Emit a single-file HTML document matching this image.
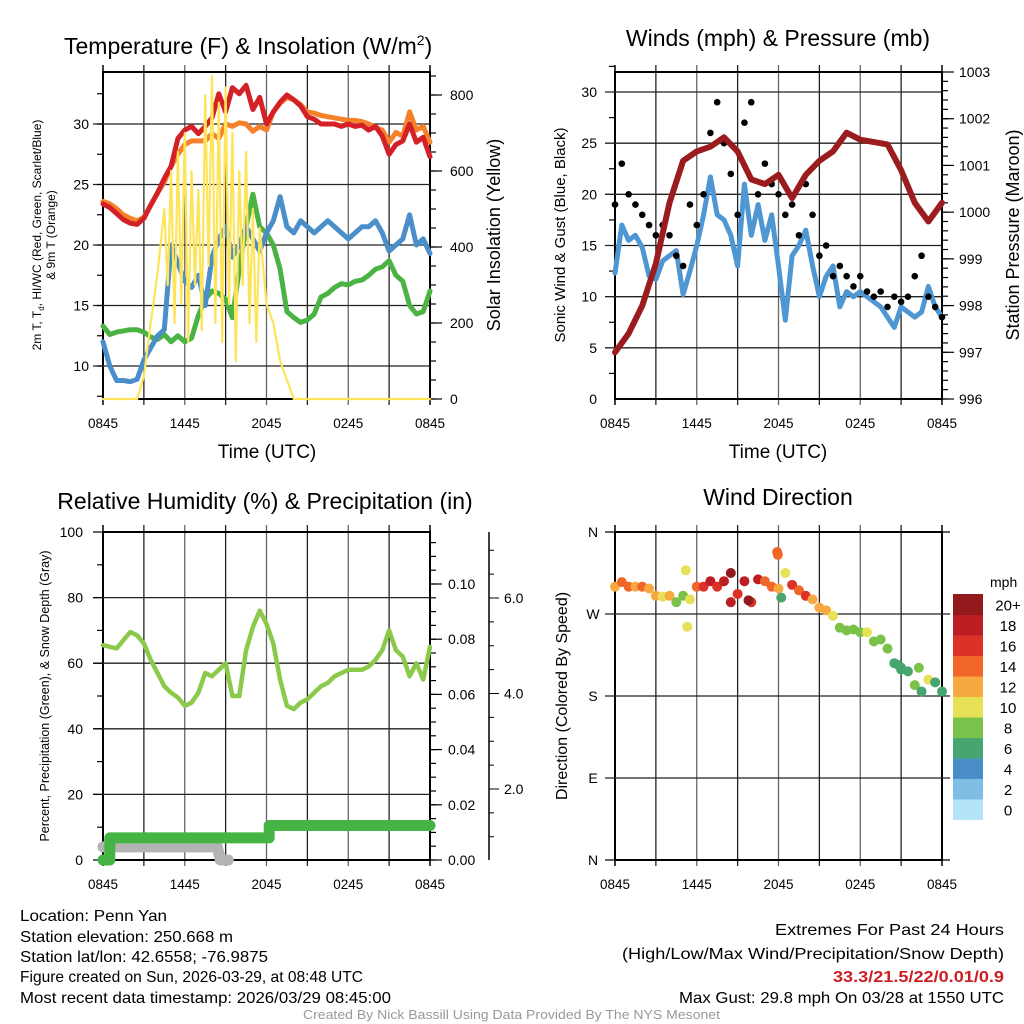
<!DOCTYPE html>
<html><head><meta charset="utf-8"><style>
html,body{margin:0;padding:0;background:#fff;}
svg{display:block;font-family:"Liberation Sans",sans-serif;}
</style></head><body>
<svg id="s" width="1024" height="1024" viewBox="0 0 1024 1024" xmlns="http://www.w3.org/2000/svg">
<rect width="1024" height="1024" fill="#fff"/>
<g id="p1"></g>
<g id="p2"></g>
<g id="p3"></g>
<g id="p4"></g>
<text x="64" y="54" font-size="23">Temperature (F) &amp; Insolation (W/m<tspan dy="-9" font-size="14">2</tspan><tspan dy="9">)</tspan></text>
<text x="778" y="46" font-size="23" text-anchor="middle">Winds (mph) &amp; Pressure (mb)</text>
<text x="265" y="509" font-size="23" text-anchor="middle">Relative Humidity (%) &amp; Precipitation (in)</text>
<text x="778" y="505" font-size="23" text-anchor="middle">Wind Direction</text>
<text x="267" y="458" font-size="19" text-anchor="middle">Time (UTC)</text>
<text x="778" y="458" font-size="19" text-anchor="middle">Time (UTC)</text>
<text transform="translate(41,235) rotate(-90)" font-size="12" text-anchor="middle">2m T, T<tspan font-size="8" dy="3">d</tspan><tspan dy="-3">, HI/WC (Red, Green, Scarlet/Blue)</tspan></text>
<text transform="translate(55,235) rotate(-90)" font-size="12" text-anchor="middle">&amp; 9m T (Orange)</text>
<text transform="translate(500,235) rotate(-90)" font-size="18" text-anchor="middle">Solar Insolation (Yellow)</text>
<text transform="translate(565,235) rotate(-90)" font-size="15" text-anchor="middle">Sonic Wind &amp; Gust (Blue, Black)</text>
<text transform="translate(1019,235) rotate(-90)" font-size="18" text-anchor="middle">Station Pressure (Maroon)</text>
<text transform="translate(49,696) rotate(-90)" font-size="12.5" text-anchor="middle">Percent, Precipitation (Green), &amp; Snow Depth (Gray)</text>
<text transform="translate(567,696) rotate(-90)" font-size="16" text-anchor="middle">Direction (Colored By Speed)</text>
<text x="990" y="587" font-size="14">mph</text>
<g font-size="16">
<text x="20" y="921" textLength="147" lengthAdjust="spacingAndGlyphs">Location: Penn Yan</text>
<text x="20" y="942" textLength="213" lengthAdjust="spacingAndGlyphs">Station elevation: 250.668 m</text>
<text x="20" y="962" textLength="248" lengthAdjust="spacingAndGlyphs">Station lat/lon: 42.6558; -76.9875</text>
<text x="20" y="982" textLength="343" lengthAdjust="spacingAndGlyphs">Figure created on Sun, 2026-03-29, at 08:48 UTC</text>
<text x="20" y="1003" textLength="371" lengthAdjust="spacingAndGlyphs">Most recent data timestamp: 2026/03/29 08:45:00</text>
</g>
<g font-size="16">
<text x="775" y="935" textLength="229" lengthAdjust="spacingAndGlyphs">Extremes For Past 24 Hours</text>
<text x="622" y="959" textLength="382" lengthAdjust="spacingAndGlyphs">(High/Low/Max Wind/Precipitation/Snow Depth)</text>
<text x="833" y="982" textLength="171" lengthAdjust="spacingAndGlyphs" fill="#cc1f24" font-weight="bold">33.3/21.5/22/0.01/0.9</text>
<text x="679" y="1003" textLength="325" lengthAdjust="spacingAndGlyphs">Max Gust: 29.8 mph On 03/28 at 1550 UTC</text>
</g>
<text x="303" y="1019" font-size="13" fill="#999" textLength="417" lengthAdjust="spacingAndGlyphs">Created By Nick Bassill Using Data Provided By The NYS Mesonet</text>
</svg>
<script>
// ---- data (half-hourly from 08:45 UTC) ----
const xTickLabels = ["0845","1445","2045","0245","0845"];
const tempTicks = [10,15,20,25,30];
const solarTicks = [0,200,400,600,800];
const windTicks = [0,5,10,15,20,25,30];
const pressTicks = [996,997,998,999,1000,1001,1002,1003];
const rhTicks = [0,20,40,60,80,100];
const precipTicks = ["0.00","0.02","0.04","0.06","0.08","0.10"];
const snowTicks = ["2.0","4.0","6.0"];
const dirTicks = ["N","E","S","W","N"];
const tempRed = [23.4,23.1,22.6,22.1,21.8,21.7,22.2,23.3,24.3,25.5,26.5,28.8,29.5,29.8,29.2,29.8,30.5,32.5,31.0,33.0,32.5,33.2,31.2,32.2,30.0,31.0,31.8,32.4,32.0,31.5,30.6,30.4,30.0,30.0,30.0,29.8,30.0,29.8,29.9,29.5,29.8,29.0,27.5,28.3,28.6,30.0,28.5,28.9,27.3];
const tempOrange = [23.6,23.4,23.0,22.5,22.2,22.0,22.3,23.3,24.3,25.2,26.5,27.5,28.3,28.6,28.6,28.6,29.2,28.8,30.0,29.8,30.1,30.0,29.4,29.8,29.5,31.0,31.7,32.2,32.0,31.6,31.0,30.9,30.7,30.6,30.5,30.4,30.3,30.3,30.2,30.0,29.7,29.5,28.5,29.3,29.0,31.0,29.5,29.8,28.5];
const tempGreen = [13.3,12.6,12.8,12.9,13.0,13.0,12.8,12.4,12.2,12.6,12.0,12.5,12.0,12.3,14.2,15.5,16.2,16.0,15.5,14.0,18.0,21.5,24.2,21.5,21.0,20.0,18.0,14.5,14.0,13.6,13.8,14.3,15.7,16.0,16.5,16.8,16.7,17.0,17.1,17.5,18.0,18.2,18.7,17.5,17.0,15.0,14.3,14.5,16.2];
const tempBlue = [12.0,10.0,8.8,8.8,8.7,8.9,10.5,11.5,12.5,13.0,20.0,18.5,17.0,16.5,17.5,15.0,19.0,20.5,21.5,19.0,20.0,21.5,20.5,19.5,21.0,22.0,24.0,21.5,21.0,22.0,21.5,21.0,21.5,22.0,21.5,21.0,20.5,21.0,21.5,21.5,22.0,21.0,19.5,20.0,20.5,22.5,20.0,20.5,19.3];
const solarHours = [0,2.5,3,3.5,4,4.5,4.75,5,5.25,5.5,5.75,6,6.25,6.5,6.75,7,7.25,7.5,7.75,8,8.25,8.5,8.75,9,9.25,9.5,9.75,10,10.25,10.5,10.75,11,11.25,11.5,12,12.5,13,13.5,14,24];
const solarValues = [0,0,60,200,330,500,300,600,200,650,250,700,150,600,300,550,180,800,350,850,200,780,150,820,250,700,100,600,300,650,200,500,150,450,250,200,100,50,0,0];
const windSpeed = [12.3,17,15.5,16,14.8,12,11.7,13.5,14,14.5,10.2,12.5,15,18,21.7,18,17.5,16,13,21,16,19,15.5,18,13,7.7,14,15,16.5,13,10,12,13,9,10.5,10,10.5,10,9.5,9,8,7,9,8.5,8,8.5,11,9,8];
const windGust = [19,23,20,19,18,17,16,17,16,14,13,19,17,20,26,29,25,22,18,27,29,20,23,21,20,18,19,16,21,18,14,15,12,13,12,11,12,10.5,10,10.5,9,10,9.5,10,12,14,10,9,8];
const pressure = [997.0,997.4,998.0,998.9,1000.2,1001.1,1001.3,1001.4,1001.6,1001.3,1000.7,1000.6,1000.8,1000.3,1000.8,1001.1,1001.3,1001.7,1001.55,1001.5,1001.45,1000.9,1000.2,999.8,1000.2];
const rh = [65.5,65,64.5,67,69.5,68.5,66,61,57,53,51,49.5,47,48,51,57,56,58,60,50,50,64,71,76,72,66,55,47,46,48,49,51,53,54,56,57,58,58,58,59,61,64,70,64,62,56,60,55,65];
const precipHours = [0,0.5,0.5,12.2,12.2,24];
const precipValues = [0,0,0.008,0.008,0.0125,0.0125];
const snowHours = [0,8.4,8.6,9.2];
const snowValues = [4,4,0,0];
const dirHours = [0,0.5,1,1.5,2,2.5,3,3.5,4,4.5,5,5.5,6,6.5,7,7.5,8,8.5,9,9.5,10,10.5,11,11.5,12,12.5,13,13.5,14,14.5,15,15.5,16,16.5,17,17.5,18,18.5,19,19.5,20,20.5,21,21.5,22,22.5,23,23.5,24,5.2,5.3,11.9,11.95,12.2,8.5,9.8,21,22.3,20.8];
const dirValues = [300,305,300,300,300,298,290,289,290,283,290,286,300,300,306,300,306,315,292,306,283,308,306,300,298,315,302,296,290,286,277,274,268,255,252,253,250,250,240,242,232,216,209,207,192,185,198,195,185,318,256,338,335,288,283,285,211,211,214];
const dirSpeed = [12,14,15,13,14,12,12,11,12,9,8,10,15,17,18,16,19,20,17,18,16,19,15,14,12,10,16,15,16,12,13,12,10,8,9,8,9,10,8,8,8,6,6,7,8,7,10,7,6,10,10,14,14,6,18,20,6,8,6];
const colorBins = ["0","2","4","6","8","10","12","14","16","18","20+"];
const binColors = ["#b5e3f8","#7fbde5","#4a8ec8","#47a66f","#7bc24a","#e6e157","#f7a941","#f26529","#dc3127","#bd1e24","#921a1d"];

const NS="http://www.w3.org/2000/svg";
function mk(parent,tag,attrs){const e=document.createElementNS(NS,tag);for(const k in attrs)e.setAttribute(k,attrs[k]);parent.appendChild(e);return e;}
function scale(d0,d1,r0,r1){return v=>r0+(v-d0)*(r1-r0)/(d1-d0);}
function lineFrom(parent,xs,ys,xf,yf,stroke,w,name){
  let d="";for(let i=0;i<xs.length;i++){d+=(i?"L":"M")+xf(xs[i]).toFixed(1)+","+yf(ys[i]).toFixed(1);}
  const p=mk(parent,"path",{d:d,fill:"none",stroke:stroke,"stroke-width":w,"stroke-linejoin":"round","stroke-linecap":"round"});
  
  
  return p;
}
const half = tempRed.map((_,i)=>i*0.5);
const hourly = pressure.map((_,i)=>i);

function frame(g,L,T,R,B,name){
  const gg=mk(g,"g",{});
  
  
  for(let k=1;k<8;k++){const x=L+(R-L)*k/8;
    const ln=mk(gg,"line",{x1:x,y1:T-7,x2:x,y2:B+6,stroke:(k%2?"#222":"#666"),"stroke-width":1.3});
    
    }
  const r=mk(g,"rect",{x:L,y:T,width:R-L,height:B-T,fill:"none",stroke:"#000","stroke-width":2});
  
  
  [L,R].forEach(x=>{const t=mk(g,"line",{x1:x,y1:T-7,x2:x,y2:B+6,stroke:"#000","stroke-width":1.5});
    
    });
  xTickLabels.forEach((s,i)=>{const t=mk(g,"text",{x:L+(R-L)*i/4,y:B+29,"font-size":13.5,"text-anchor":"middle"});t.textContent=s;
    
    });
}
function hgrid(g,L,R,ys,col){ys.forEach(y=>{const l=mk(g,"line",{x1:L-10,y1:y,x2:R,y2:y,stroke:col||"#222","stroke-width":1.3});
  
  });}
function yLabels(g,x,vals,yf,anchor,fs,name){vals.forEach(v=>{const t=mk(g,"text",{x:x,y:yf(v)+5,"font-size":fs||14,"text-anchor":anchor});t.textContent=v;
  
  });}
function ticks(g,x,vals,yf,len,name){vals.forEach(v=>{const l=mk(g,"line",{x1:x,y1:yf(v),x2:x+len,y2:yf(v),stroke:"#000","stroke-width":1.2});
  
  });}

// ---- Panel 1 ----
(function(){
  const g=document.getElementById("p1");const L=103,R=430,T=72,B=399;
  const x=scale(0,24,L,R), y=scale(10,30,366,124), ys=scale(0,800,399,95);
  frame(g,L,T,R,B,"temperature");
  hgrid(g,L,R,tempTicks.map(y));
  const mt=[];for(let v=7.5;v<=32.5;v+=2.5)mt.push(v);ticks(g,L,mt,y,-6,"temp-minor-tick");
  yLabels(g,L-14,tempTicks,y,"end",14,"temp-tick-label");
  const st=[];for(let v=0;v<=850;v+=50)st.push(v);ticks(g,R,st,ys,6,"solar-minor-tick");
  ticks(g,R,solarTicks,ys,12,"solar-tick");
  yLabels(g,R+20,solarTicks,ys,"start",14,"solar-tick-label");
  lineFrom(g,half,tempOrange,x,y,"#f5822a",5,"temp-9m-line");
  lineFrom(g,half,tempRed,x,y,"#d42027",5,"temp-2m-line");
  lineFrom(g,half,tempGreen,x,y,"#4bb344",5,"dewpoint-line");
  lineFrom(g,half,tempBlue,x,y,"#4a8fc9",5,"heat-index-line");
  lineFrom(g,solarHours,solarValues,x,ys,"#fde45a",2.2,"solar-line");
})();
// ---- Panel 2 ----
(function(){
  const g=document.getElementById("p2");const L=615,R=942,T=72,B=399;
  const x=scale(0,24,L,R), y=scale(0,30,399,92), yp=scale(996,1003,399,72);
  frame(g,L,T,R,B,"wind");
  hgrid(g,L,R,windTicks.slice(1).map(y));
  const mt=[];for(let v=2.5;v<=32.5;v+=5)mt.push(v);ticks(g,L,mt,y,-6,"wind-minor-tick");
  yLabels(g,L-18,windTicks,y,"end",14,"wind-tick-label");
  const pt=[];for(let v=996;v<=1003;v+=0.2)pt.push(v);ticks(g,R,pt,yp,6,"pressure-minor-tick");
  ticks(g,R,pressTicks,yp,12,"pressure-tick");
  yLabels(g,R+17,pressTicks,yp,"start",14,"pressure-tick-label");
  lineFrom(g,half,windSpeed,x,y,"#4e97d3",5,"wind-speed-line");
  windGust.forEach((v,i)=>{const c=mk(g,"circle",{cx:x(half[i]),cy:y(v),r:3.3,fill:"#000"});
    
    });
  lineFrom(g,hourly,pressure,x,yp,"#9b1c1f",6,"pressure-line");
})();
// ---- Panel 3 ----
(function(){
  const g=document.getElementById("p3");const L=103,R=430,T=532,B=860;
  const x=scale(0,24,L,R), y=scale(0,100,860,532), yq=scale(0,0.1,860,584);
  frame(g,L,T,R,B,"humidity");
  hgrid(g,L,R,rhTicks.slice(1,5).map(y));
  const mt=[];for(let v=10;v<=90;v+=20)mt.push(v);ticks(g,L,mt,y,-6,"rh-minor-tick");
  ticks(g,L,rhTicks,y,-10,"rh-tick");
  yLabels(g,L-20,rhTicks,y,"end",14,"rh-tick-label");
  const pt=[];for(let v=0;v<=0.118;v+=0.005)pt.push(v);ticks(g,R,pt,yq,6,"precip-minor-tick");
  precipTicks.forEach(s=>{const v=parseFloat(s);const l=mk(g,"line",{x1:R,y1:yq(v),x2:R+12,y2:yq(v),stroke:"#000","stroke-width":1.2});
    
    
    const t=mk(g,"text",{x:R+18,y:yq(v)+5,"font-size":14});t.textContent=s;
    
    });
  const sx=489, ysn=scale(2,6,789,598);
  const ax=mk(g,"line",{x1:sx,y1:532,x2:sx,y2:860,stroke:"#000","stroke-width":1.5});
  
  
  for(let v=0.5;v<=7;v+=0.5){const yy=ysn(v);if(yy<532||yy>860)continue;const l=mk(g,"line",{x1:sx,y1:yy,x2:sx+(v%2===0?10:5),y2:yy,stroke:"#000","stroke-width":1});
    
    }
  snowTicks.forEach(s=>{const t=mk(g,"text",{x:sx+15,y:ysn(parseFloat(s))+5,"font-size":14});t.textContent=s;
    
    });
  lineFrom(g,half,rh,x,y,"#8bc94b",4.5,"rh-line");
  lineFrom(g,snowHours,snowValues,x,y,"#b4b4b4",11,"snow-depth-line");
  lineFrom(g,precipHours,precipValues,x,yq,"#46b445",11,"precip-line");
})();
// ---- Panel 4 ----
(function(){
  const g=document.getElementById("p4");const L=615,R=942,T=532,B=860;
  const x=scale(0,24,L,R), y=scale(0,360,860,532);
  frame(g,L,T,R,B,"direction");
  hgrid(g,L,R+8,[90,180,270].map(y));
  [0,360].forEach(v=>{const l=mk(g,"line",{x1:L-10,y1:y(v),x2:R+8,y2:y(v),stroke:"#000","stroke-width":1.3});
    
    });
  dirTicks.forEach((s,i)=>{const t=mk(g,"text",{x:L-22,y:y(i*90)+5,"font-size":14,"text-anchor":"middle"});t.textContent=s;
    
    });
  dirValues.forEach((v,i)=>{const b=Math.min(10,Math.floor(dirSpeed[i]/2));
    const c=mk(g,"circle",{cx:x(dirHours[i]),cy:y(v),r:5,fill:binColors[b]});
    
    });
  const cbT=594,cbH=20.5;
  colorBins.forEach((s,i)=>{const yy=cbT+(10-i)*cbH;
    const r=mk(g,"rect",{x:953,y:yy,width:30,height:cbH+0.5,fill:binColors[i]});
    
    
    const t=mk(g,"text",{x:1008,y:yy+cbH/2+6,"font-size":15,"text-anchor":"middle"});t.textContent=s;
    
    });
})();
</script>
</body></html>
